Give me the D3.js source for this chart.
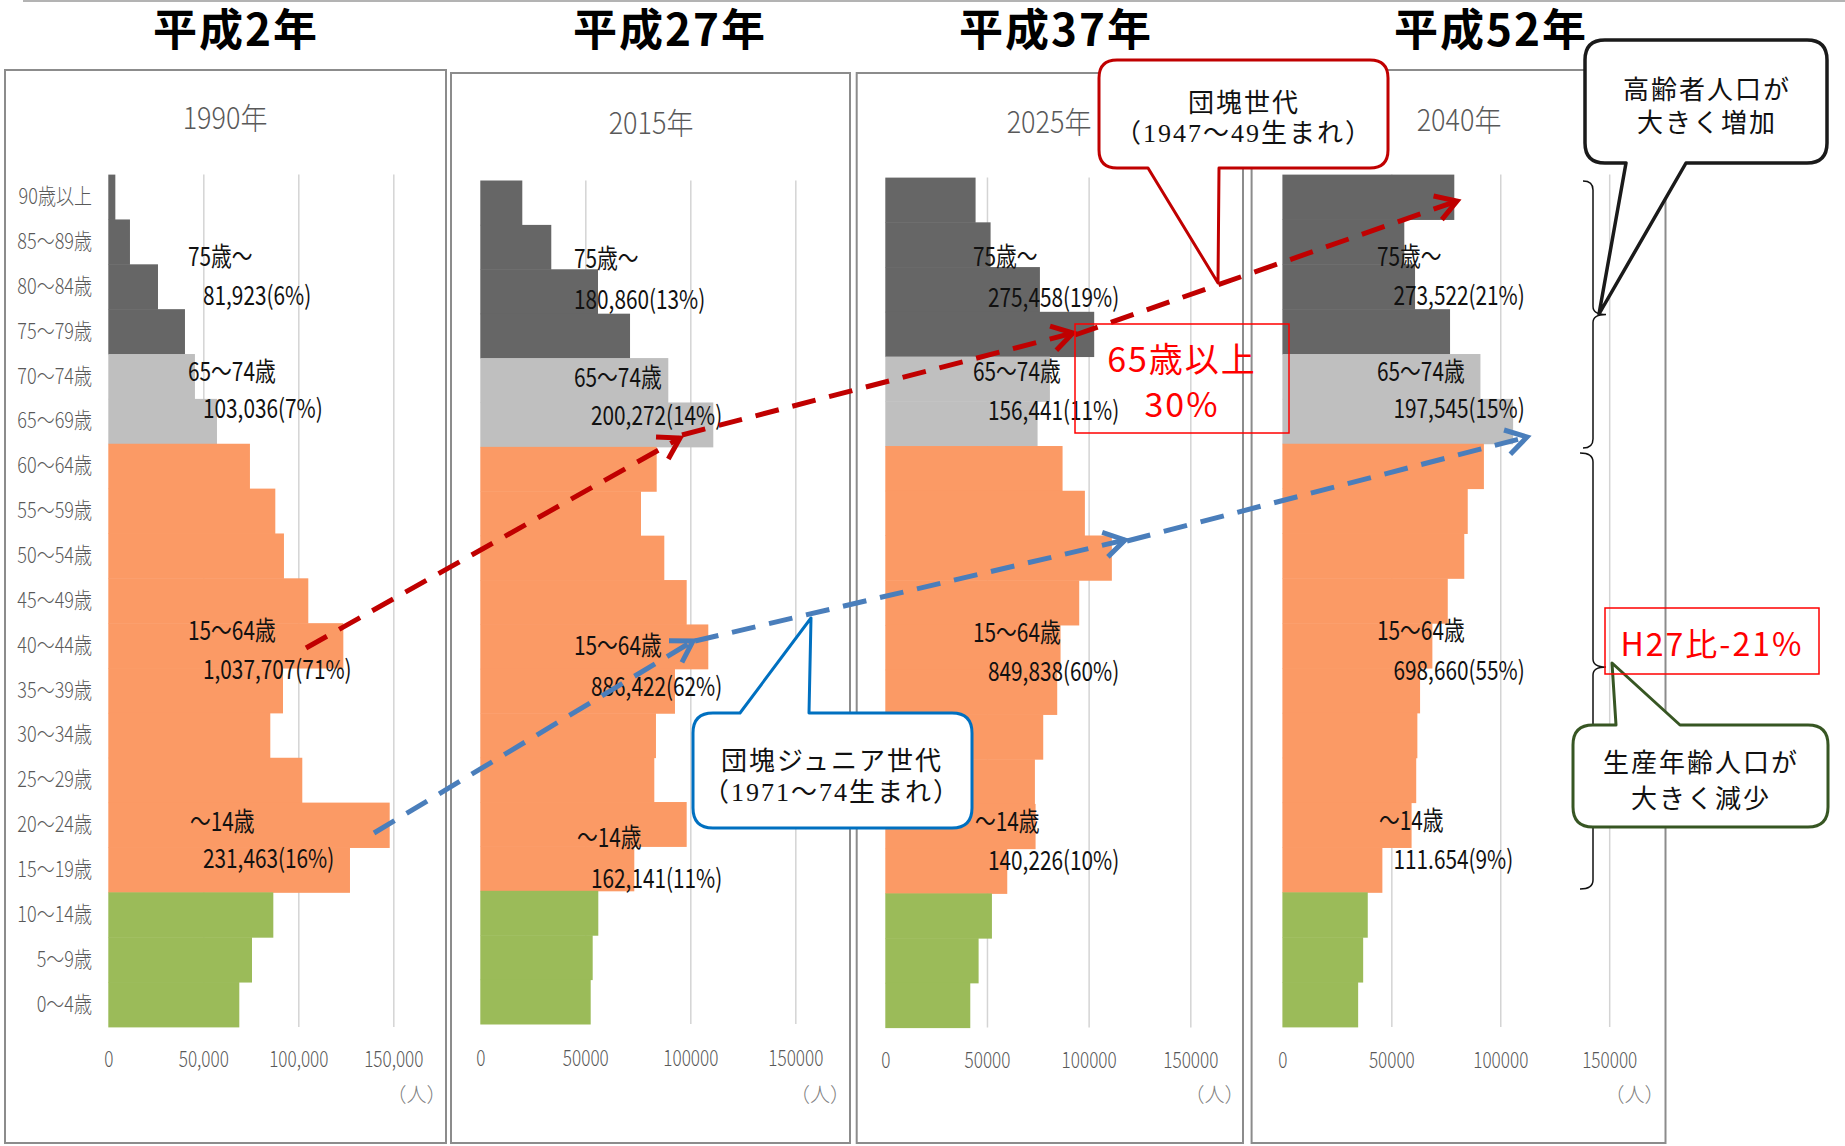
<!DOCTYPE html>
<html>
<head>
<meta charset="utf-8">
<script src="https://cdn.jsdelivr.net/npm/d3@7"></script>
<style>
  body { margin: 0; background: #fff; }
  svg { display: block; }
</style>
</head>
<body>
<script>
// Age categories, top to bottom as drawn
const ageLabels = ["90歳以上", "85～89歳", "80～84歳", "75～79歳", "70～74歳", "65～69歳",
    "60～64歳", "55～59歳", "50～54歳", "45～49歳", "40～44歳", "35～39歳", "30～34歳",
    "25～29歳", "20～24歳", "15～19歳", "10～14歳", "5～9歳", "0～4歳"];
const ageBand = ["75+", "75+", "75+", "75+", "65-74", "65-74",
    "15-64", "15-64", "15-64", "15-64", "15-64", "15-64", "15-64", "15-64", "15-64", "15-64",
    "0-14", "0-14", "0-14"];

// Population (人) per age group, same order as ageLabels
const pop1990 = [3700, 11400, 26150, 40350, 45600, 57200, 74550, 87900, 92450, 105260,
    123700, 91950, 85260, 102100, 148100, 127200, 86850, 75630, 68950];
const pop2015 = [20000, 33800, 56050, 71300, 89520, 110950, 84000, 76520, 87620, 98280,
    108570, 92700, 83650, 82860, 98280, 73330, 56190, 53520, 52570];
const pop2025 = [44400, 51780, 76040, 102740, 80960, 74890, 87180, 98160, 111420, 95370,
    86190, 84550, 77670, 73580, 73910, 59980, 52440, 45890, 41790];
const pop2040 = [78900, 55950, 60890, 76950, 90900, 105900, 92490, 85070, 83480, 75900,
    68840, 63190, 61950, 61420, 59300, 45890, 39180, 37070, 34770];

const eraTitles = ["平成2年", "平成27年", "平成37年", "平成52年"];
const yearTitles = ["1990年", "2015年", "2025年", "2040年"];
const groupNames = ["75歳～", "65～74歳", "15～64歳", "～14歳"];
const totals1990 = ["81,923(6%)", "103,036(7%)", "1,037,707(71%)", "231,463(16%)"];
const totals2015 = ["180,860(13%)", "200,272(14%)", "886,422(62%)", "162,141(11%)"];
const totals2025 = ["275,458(19%)", "156,441(11%)", "849,838(60%)", "140,226(10%)"];
const totals2040 = ["273,522(21%)", "197,545(15%)", "698,660(55%)", "111.654(9%)"];
const xTicks = [0, 50000, 100000, 150000];

const bandColor = {"75+": "#666666", "65-74": "#bfbfbf", "15-64": "#fb9a65", "0-14": "#9bbb59"};

const jp = '"Noto Sans CJK JP",sans-serif';
const serifJp = '"Liberation Serif","Noto Sans CJK JP",serif';

// Panel layout (pixel positions only)
const layout = [
    {fx: 5, fy: 70, fr: 446, x0: 108.3, x1: 393.3, yt: 174.6, yb: 1026.9, fmt: d3.format(","),
        titleX: 236, subX: 225, subY: 115.5, unitX: 416.5, tickY: 1058,
        nameX: [188, 188, 188, 190], numX: [203, 203, 203, 203],
        ly: [[255, 294], [370, 407], [629, 668], [820, 857]]},
    {fx: 451, fy: 73, fr: 850, x0: 480.3, x1: 795.3, yt: 180.5, yb: 1024, fmt: d3.format("d"),
        titleX: 670, subX: 651, subY: 121, unitX: 820, tickY: 1056.5,
        nameX: [574, 574, 574, 577], numX: [574, 591, 591, 591],
        ly: [[257, 298], [375.5, 414], [644, 685], [836, 877]]},
    {fx: 856.7, fy: 73, fr: 1243, x0: 885.3, x1: 1190.3, yt: 177.6, yb: 1027.6, fmt: d3.format("d"),
        titleX: 1056, subX: 1049, subY: 120, unitX: 1214.5, tickY: 1059,
        nameX: [973, 973, 973, 975], numX: [988, 988, 988, 988],
        ly: [[255, 296], [370, 409], [631, 670], [820, 858.6]]},
    {fx: 1251.6, fy: 70, fr: 1665.5, x0: 1282.4, x1: 1609.2, yt: 174.6, yb: 1026.9, fmt: d3.format("d"),
        titleX: 1491, subX: 1459, subY: 117.5, unitX: 1634.5, tickY: 1059,
        nameX: [1377, 1377, 1377, 1379], numX: [1393.5, 1393.5, 1393.5, 1393.5],
        ly: [[255, 294], [370, 407], [629, 669], [818.6, 857.8]]}
];
const popByPanel = [pop1990, pop2015, pop2025, pop2040];
const totalsByPanel = [totals1990, totals2015, totals2025, totals2040];

const svg = d3.select("body").append("svg")
    .attr("width", 1845)
    .attr("height", 1146);

// narrow text: the reference uses a condensed face, so squeeze horizontally
function squeezed(parent, x, y, s, txt) {
    return parent.append("text")
        .attr("transform", "translate(" + x + "," + y + ") scale(" + s + ",1)")
        .attr("dominant-baseline", "central")
        .style("font-family", jp)
        .text(txt);
}

// top rule
svg.append("line")
    .attr("x1", 23).attr("x2", 1845).attr("y1", 1).attr("y2", 1)
    .attr("stroke", "#9a9a9a").attr("stroke-width", 1.5);

layout.forEach(function (p, k) {
    let g = svg.append("g");
    let data = popByPanel[k];

    // frame
    g.append("rect")
        .attr("x", p.fx).attr("y", p.fy)
        .attr("width", p.fr - p.fx).attr("height", 1143 - p.fy)
        .attr("fill", "none").attr("stroke", "#8c8c8c").attr("stroke-width", 2);

    let x = d3.scaleLinear().domain([0, 150000]).range([p.x0, p.x1]);
    let y = d3.scaleBand().domain(ageLabels).range([p.yt, p.yb]).padding(0);

    // gridlines
    g.append("g")
        .attr("transform", "translate(0," + p.yb + ")")
        .call(d3.axisBottom(x).tickValues(xTicks.slice(1)).tickSize(-(p.yb - p.yt)).tickFormat(""))
        .call(function (a) { a.select(".domain").remove(); })
        .selectAll("line").attr("stroke", "#d4d4d4").attr("stroke-width", 1.5);

    // bars
    g.append("g").selectAll("rect")
        .data(data)
        .enter().append("rect")
        .attr("x", x(0))
        .attr("y", function (d, i) { return y(ageLabels[i]); })
        .attr("width", function (d) { return x(d) - x(0); })
        .attr("height", y.bandwidth() + 0.5)
        .attr("fill", function (d, i) { return bandColor[ageBand[i]]; });

    // x tick labels
    let xa = g.append("g")
        .attr("transform", "translate(0," + p.yb + ")")
        .call(d3.axisBottom(x).tickValues(xTicks).tickSize(0).tickFormat(p.fmt));
    xa.select(".domain").remove();
    xa.selectAll("text")
        .attr("y", p.tickY - p.yb).attr("dy", null)
        .attr("dominant-baseline", "central")
        .attr("transform", "scale(0.78,1)")
        .style("font-family", jp).style("font-size", "22px").style("font-weight", 300)
        .attr("fill", "#595959");

    // unit
    g.append("text")
        .attr("x", p.unitX).attr("y", 1093)
        .attr("text-anchor", "middle").attr("dominant-baseline", "central")
        .style("font-family", jp).style("font-size", "20px").style("font-weight", 300)
        .attr("fill", "#7f7f7f")
        .text("（人）");

    // y labels only on the first panel
    if (k === 0) {
        let ya = g.append("g")
            .attr("transform", "translate(" + 92 + ",0)")
            .call(d3.axisLeft(y).tickSize(0).tickPadding(0));
        ya.select(".domain").remove();
        ya.selectAll("text")
            .attr("transform", "scale(0.82,1)")
            .style("font-family", jp).style("font-size", "22px").style("font-weight", 300)
            .attr("fill", "#595959");
    }

    // group labels
    groupNames.forEach(function (name, j) {
        squeezed(g, p.nameX[j], p.ly[j][0], 0.8, name)
            .style("font-size", "26px").attr("fill", "#111");
        squeezed(g, p.numX[j], p.ly[j][1], 0.8, totalsByPanel[k][j])
            .style("font-size", "26px").attr("fill", "#111");
    });

    // titles
    svg.append("text")
        .attr("x", p.titleX).attr("y", 46)
        .attr("text-anchor", "middle")
        .style("font-family", jp).style("font-size", "44px").style("font-weight", 700)
        .style("letter-spacing", "2px")
        .attr("fill", "#000")
        .text(eraTitles[k]);
    squeezed(g, p.subX, p.subY, 0.9, yearTitles[k])
        .attr("text-anchor", "middle")
        .style("font-size", "30px").style("font-weight", 300).attr("fill", "#595959");
});

// dashed arrows
function arrow(p0, p1, color) {
    let g = svg.append("g");
    g.append("line")
        .attr("x1", p0[0]).attr("y1", p0[1]).attr("x2", p1[0]).attr("y2", p1[1])
        .attr("stroke", color).attr("stroke-width", 5)
        .attr("stroke-dasharray", "24 14");
    let a = Math.atan2(p1[1] - p0[1], p1[0] - p0[0]);
    let len = 24, sp = 0.55;
    let l = [p1[0] - len * Math.cos(a - sp), p1[1] - len * Math.sin(a - sp)];
    let r = [p1[0] - len * Math.cos(a + sp), p1[1] - len * Math.sin(a + sp)];
    g.append("path")
        .attr("d", "M" + l + "L" + p1 + "L" + r)
        .attr("fill", "none").attr("stroke", color).attr("stroke-width", 5)
        .attr("stroke-linejoin", "miter");
}
const red = "#c00000", blue = "#4a7ebb";
arrow([306, 648], [680, 438], red);
arrow([682, 435], [1073, 333], red);
arrow([1075, 335], [1457, 201], red);
arrow([374, 833], [693, 641], blue);
arrow([695, 641], [1125, 540], blue);
arrow([1127, 541], [1527, 437], blue);

// braces
function brace(y1, y2, ym, xl, xs, xt) {
    let d = "M" + xl + "," + y1 + "Q" + xs + "," + y1 + " " + xs + "," + (y1 + 9) +
        "L" + xs + "," + (ym - 8) + "Q" + xs + "," + ym + " " + xt + "," + ym +
        "Q" + xs + "," + ym + " " + xs + "," + (ym + 8) +
        "L" + xs + "," + (y2 - 9) + "Q" + xs + "," + y2 + " " + xl + "," + y2;
    svg.append("path").attr("d", d)
        .attr("fill", "none").attr("stroke", "#111").attr("stroke-width", 1.5);
}
brace(181, 448, 314.5, 1583, 1593, 1606);
brace(453, 889, 667, 1580, 1593, 1606);

// callouts: rounded box with a pointer on the top or bottom edge
function callout(b, color, width, lines, fonts) {
    let x = b.x, y = b.y, w = b.w, h = b.h, r = b.r;
    let d = "M" + (x + r) + "," + y;
    if (b.side === "top") d += "L" + b.xa + "," + y + "L" + b.tip + "L" + b.xb + "," + y;
    d += "L" + (x + w - r) + "," + y + "Q" + (x + w) + "," + y + " " + (x + w) + "," + (y + r);
    d += "L" + (x + w) + "," + (y + h - r) + "Q" + (x + w) + "," + (y + h) + " " + (x + w - r) + "," + (y + h);
    if (b.side === "bottom") d += "L" + b.xb + "," + (y + h) + "L" + b.tip + "L" + b.xa + "," + (y + h);
    d += "L" + (x + r) + "," + (y + h) + "Q" + x + "," + (y + h) + " " + x + "," + (y + h - r);
    d += "L" + x + "," + (y + r) + "Q" + x + "," + y + " " + (x + r) + "," + y + "Z";
    svg.append("path").attr("d", d)
        .attr("fill", "#fff").attr("stroke", color).attr("stroke-width", width)
        .attr("stroke-linejoin", "round");
    lines.forEach(function (t, i) {
        svg.append("text")
            .attr("x", b.tx).attr("y", b.ty[i])
            .attr("text-anchor", "middle").attr("dominant-baseline", "central")
            .style("font-family", fonts[i]).style("font-size", "26px")
            .style("letter-spacing", "2px").attr("fill", "#111")
            .text(t);
    });
}
callout({x: 1099, y: 60, w: 289, h: 108, r: 18, side: "bottom", xa: 1148, xb: 1219, tip: [1218, 283],
    tx: 1244, ty: [100, 133]}, "#c00000", 3, ["団塊世代", "（1947～49生まれ）"], [jp, serifJp]);
callout({x: 693, y: 713, w: 279, h: 115, r: 20, side: "top", xa: 740, xb: 809, tip: [811, 618],
    tx: 832, ty: [758, 792]}, "#0070c0", 3, ["団塊ジュニア世代", "（1971～74生まれ）"], [jp, serifJp]);
callout({x: 1585, y: 40, w: 242, h: 123, r: 20, side: "bottom", xa: 1626, xb: 1686, tip: [1599, 314],
    tx: 1707, ty: [87, 120]}, "#1a1a1a", 3.5, ["高齢者人口が", "大きく増加"], [jp, jp]);
callout({x: 1573, y: 725, w: 255, h: 102, r: 20, side: "top", xa: 1616, xb: 1680, tip: [1612, 663],
    tx: 1701, ty: [760, 796]}, "#375623", 3, ["生産年齢人口が", "大きく減少"], [jp, jp]);

// red highlight boxes
function redBox(x, y, w, h, lines, ys, size) {
    svg.append("rect").attr("x", x).attr("y", y).attr("width", w).attr("height", h)
        .attr("fill", "none").attr("stroke", "#ff0000").attr("stroke-width", 1.5);
    lines.forEach(function (t, i) {
        svg.append("text")
            .attr("x", x + w / 2).attr("y", ys[i])
            .attr("text-anchor", "middle").attr("dominant-baseline", "central")
            .style("font-family", jp).style("font-size", size + "px")
            .style("letter-spacing", "2px").attr("fill", "#ff0000")
            .text(t);
    });
}
redBox(1075, 324, 214, 109, ["65歳以上", "30%"], [357, 402], 34);
redBox(1605, 608, 214, 66, ["H27比-21%"], [642], 32);
</script>
</body>
</html>
